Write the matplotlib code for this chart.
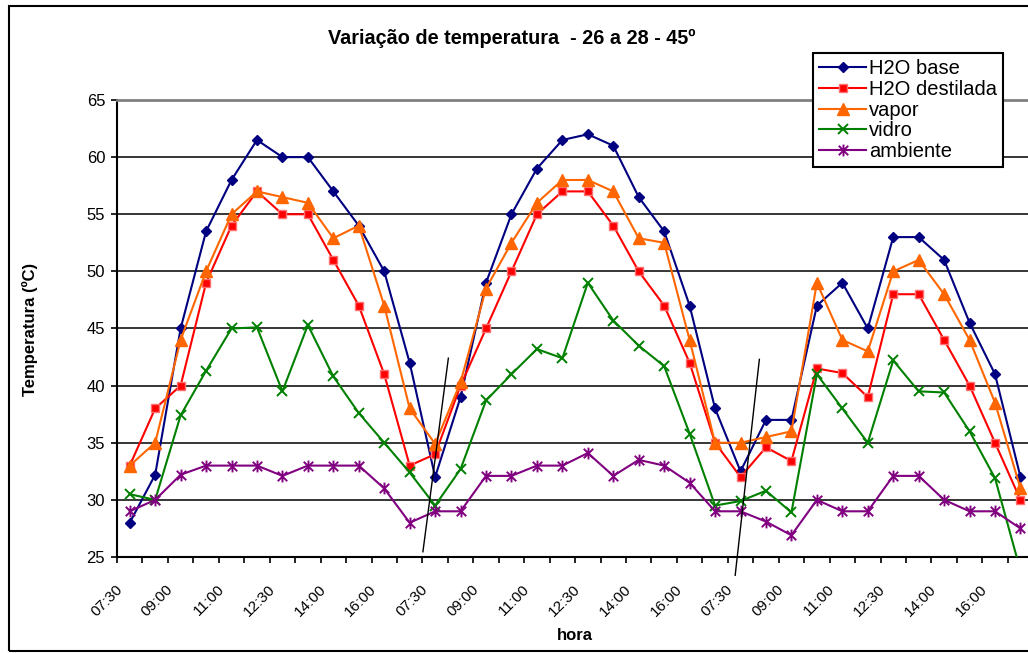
import matplotlib
matplotlib.use("Agg")
import matplotlib.pyplot as plt
from matplotlib.path import Path
from matplotlib.patches import Rectangle
from matplotlib.transforms import ScaledTranslation, blended_transform_factory

plt.rcParams['font.family'] = ['Liberation Sans', 'DejaVu Sans']

# ---------------- data ----------------
day_labels = ['07:30', '', '09:00', '', '11:00', '', '12:30', '', '14:00', '', '16:00', '']
categories = day_labels * 3

h2o_base = [28, 32.2, 45, 53.5, 58, 61.5, 60, 60, 57, 54, 50, 42,
            32, 39, 49, 55, 59, 61.5, 62, 61, 56.5, 53.5, 47, 38,
            32.5, 37, 37, 47, 49, 45, 53, 53, 51, 45.5, 41, 32]
h2o_destilada = [33, 38, 40, 49, 54, 57, 55, 55, 51, 47, 41, 33,
                 34, 40, 45, 50, 55, 57, 57, 54, 50, 47, 42, 35,
                 32, 34.6, 33.4, 41.5, 41.1, 39, 48, 48, 44, 40, 35, 30]
vapor = [33, 35, 44, 50, 55, 57, 56.5, 56, 52.9, 54, 47, 38,
         34.9, 40.3, 48.5, 52.5, 56, 58, 58, 57, 52.9, 52.5, 44, 35,
         35, 35.5, 36, 49, 44, 43, 50, 51, 48, 44, 38.5, 31]
vidro = [30.5, 30, 37.4, 41.3, 45, 45.1, 39.5, 45.3, 40.8, 37.6, 35, 32.4,
         29.5, 32.7, 38.7, 41, 43.2, 42.4, 49, 45.7, 43.5, 41.7, 35.8, 29.5,
         29.9, 30.8, 28.9, 41, 38, 35, 42.2, 39.5, 39.4, 36, 31.9, 23.8]
ambiente = [29, 30, 32.2, 33, 33, 33, 32.1, 33, 33, 33, 31, 28,
            29, 29, 32.1, 32.1, 33, 33, 34.1, 32.1, 33.5, 33, 31.5, 29,
            29, 28.1, 26.9, 30, 29, 29, 32.1, 32.1, 30, 29, 29, 27.5]

series_names = ['H2O base', 'H2O destilada', 'vapor', 'vidro', 'ambiente']
y_ticks = [25, 30, 35, 40, 45, 50, 55, 60, 65]

title = 'Variação de temperatura  - 26 a 28 - 45º'
y_title = 'Temperatura (ºC)'
x_title = 'hora'

# ---------------- figure ----------------
W, H = 1028, 653
fig = plt.figure(figsize=(W / 100, H / 100), dpi=100)
fig.patch.set_facecolor('white')

n = len(categories)
cat_px = 25.45
ax = fig.add_axes([117 / W, 96 / H, n * cat_px / W, 457 / H])

star = Path([(0, -1), (0, 1), (-0.8, -0.8), (0.8, 0.8), (-0.8, 0.8), (0.8, -0.8)],
            [Path.MOVETO, Path.LINETO, Path.MOVETO, Path.LINETO, Path.MOVETO, Path.LINETO])

styles = [
    dict(color='#000080', marker='D', ms=5.4, mfc='#000080', mec='#000080', mew=1),
    dict(color='#FF0000', marker='s', ms=6, mfc='#FF0000', mec='#FF7070', mew=1),
    dict(color='#FF6600', marker='^', ms=8, mfc='#FF6600', mec='#FF6600', mew=1),
    dict(color='#008000', marker='x', ms=7.5, mfc='#008000', mec='#008000', mew=1.4),
    dict(color='#800080', marker=star, ms=8.5, mfc='#800080', mec='#800080', mew=1.4),
]
values = [h2o_base, h2o_destilada, vapor, vidro, ambiente]
xs = list(range(n))
for i, (name, vals, st) in enumerate(zip(series_names, values, styles)):
    ax.plot(xs, vals, label=name, lw=1.5, zorder=3 + i, **st)

ax.set_xlim(-0.5, n - 0.5)
ax.set_ylim(y_ticks[0], y_ticks[-1])
ax.set_yticks(y_ticks)
ax.yaxis.grid(True, color='black', lw=1.1)
ax.set_axisbelow(True)

for s in ['left', 'bottom']:
    ax.spines[s].set_color('black')
    ax.spines[s].set_linewidth(1.5)
for s in ['top', 'right']:
    ax.spines[s].set_color('#808080')
    ax.spines[s].set_linewidth(2)

# ticks at category boundaries, labels drawn at the boundary on the left of each category
tick_pos = [k - 0.5 for k in range(n + 1)]
ax.set_xticks(tick_pos)
ax.tick_params(axis='x', direction='out', length=4.5, width=1.2, labelbottom=False)
ax.tick_params(axis='y', direction='out', length=4.5, width=1.2, pad=4, labelsize=12)

lab_trans = blended_transform_factory(ax.transData, ax.transAxes) + \
    ScaledTranslation(3 / 100, -30 / 100, fig.dpi_scale_trans)
for k, lab in enumerate(categories):
    if lab:
        ax.text(k - 0.5, 0, lab, transform=lab_trans, rotation=45, ha='right', va='center',
                rotation_mode='anchor', fontsize=11, clip_on=False)

# hand-drawn break marks
ax.plot([11.52, 12.52], [25.46, 42.4], color='black', lw=1, clip_on=False, zorder=10)
ax.plot([23.79, 24.74], [23.4, 42.3], color='black', lw=1, clip_on=False, zorder=10)

# texts
fig.text(512 / W, 1 - 38 / H, title, ha='center', va='center', fontsize=14.3, fontweight='bold')
fig.text(30 / W, 1 - 329 / H, y_title, rotation=90, ha='center', va='center',
         fontsize=12, fontweight='bold')
fig.text(575 / W, 1 - 636 / H, x_title, ha='center', va='center', fontsize=12, fontweight='bold')

leg = ax.legend(loc='upper left', bbox_to_anchor=(813 / W, 1 - 53 / H),
                bbox_transform=fig.transFigure, borderaxespad=0, fontsize=14.5,
                frameon=True, fancybox=False, edgecolor='black', framealpha=1,
                handlelength=2.35, handletextpad=0.12, labelspacing=0.09, borderpad=0.3)
leg.get_frame().set_linewidth(1.5)
leg.set_zorder(20)

# chart frame
fig.patches.append(Rectangle((9 / W, 2 / H), 1.05, 645 / H, transform=fig.transFigure,
                             fill=False, ec='black', lw=1.5))

fig.savefig('out.png', dpi=100)
